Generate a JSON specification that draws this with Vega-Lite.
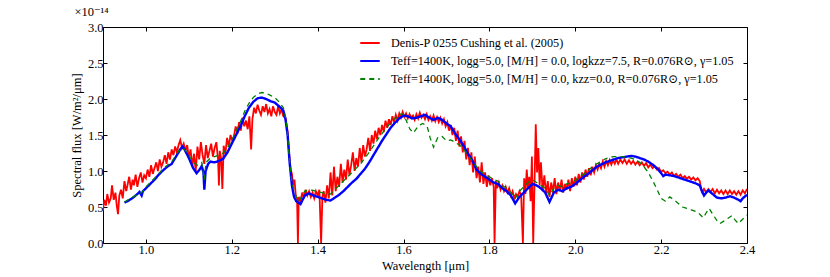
{
 "$schema": "https://vega.github.io/schema/vega-lite/v6.json",
 "width": 644, "height": 216,
 "autosize": {"type": "none"},
 "padding": {"left": 103, "top": 27, "right": 83, "bottom": 34},
 "background": "white",
 "config": {
  "font": "Liberation Serif, DejaVu Serif, serif",
  "view": {"stroke": "black", "strokeWidth": 1},
  "axis": {"domain": false, "grid": false, "tickSize": -4, "tickColor": "black", "labelFont": "Liberation Serif, DejaVu Serif, serif", "labelFontSize": 12.5, "labelColor": "black", "titleFont": "Liberation Serif, DejaVu Serif, serif", "titleFontSize": 12.5, "titleFontWeight": "normal", "titleColor": "black", "labelPadding": 4, "labelFlush": false, "labelOverlap": false},
  "legend": {"orient": "none", "legendX": 256, "legendY": 5, "symbolType": "stroke", "symbolSize": 380, "symbolStrokeWidth": 2, "labelFont": "Liberation Serif, DejaVu Serif, serif", "labelFontSize": 12.2, "labelColor": "black", "labelLimit": 0, "labelOffset": 10, "rowPadding": -5}
 },
 "title": {"text": "×10⁻¹⁴", "anchor": "start", "fontSize": 12.5, "fontWeight": "normal", "font": "Liberation Serif, DejaVu Serif, serif", "offset": 3, "dx": 4, "color": "black"},
 "datasets": {
  "series": [
   {"s": "o", "name": "Denis-P 0255 Cushing et al. (2005)"},
   {"s": "b", "name": "Teff=1400K, logg=5.0, [M/H] = 0.0, logkzz=7.5, R=0.076R⊙, γ=1.05"},
   {"s": "g", "name": "Teff=1400K, logg=5.0, [M/H] = 0.0, kzz=0.0, R=0.076R⊙, γ=1.05"}
  ],
  "spec": [
{"s":"o","w":0.900,"f":0.45},{"s":"o","w":0.903,"f":0.60},{"s":"o","w":0.907,"f":0.52},{"s":"o","w":0.910,"f":0.68},{"s":"o","w":0.914,"f":0.56},{"s":"o","w":0.918,"f":0.62},{"s":"o","w":0.921,"f":0.80},{"s":"o","w":0.925,"f":0.60},{"s":"o","w":0.929,"f":0.70},{"s":"o","w":0.932,"f":0.52},
{"s":"o","w":0.935,"f":0.40},{"s":"o","w":0.938,"f":0.66},{"s":"o","w":0.942,"f":0.74},{"s":"o","w":0.946,"f":0.62},{"s":"o","w":0.950,"f":0.86},{"s":"o","w":0.954,"f":0.72},{"s":"o","w":0.957,"f":0.80},{"s":"o","w":0.961,"f":0.92},{"s":"o","w":0.965,"f":0.74},{"s":"o","w":0.969,"f":0.88},
{"s":"o","w":0.972,"f":0.80},{"s":"o","w":0.976,"f":0.95},{"s":"o","w":0.980,"f":0.78},{"s":"o","w":0.984,"f":0.90},{"s":"o","w":0.988,"f":0.98},{"s":"o","w":0.992,"f":0.84},{"s":"o","w":0.996,"f":0.94},{"s":"o","w":1.000,"f":0.90},{"s":"o","w":1.004,"f":1.02},{"s":"o","w":1.008,"f":0.92},
{"s":"o","w":1.012,"f":1.08},{"s":"o","w":1.016,"f":0.96},{"s":"o","w":1.020,"f":1.04},{"s":"o","w":1.024,"f":1.12},{"s":"o","w":1.028,"f":1.00},{"s":"o","w":1.032,"f":1.16},{"s":"o","w":1.036,"f":1.06},{"s":"o","w":1.040,"f":1.12},{"s":"o","w":1.044,"f":1.22},{"s":"o","w":1.048,"f":1.10},
{"s":"o","w":1.052,"f":1.26},{"s":"o","w":1.056,"f":1.16},{"s":"o","w":1.060,"f":1.30},{"s":"o","w":1.064,"f":1.22},{"s":"o","w":1.068,"f":1.34},{"s":"o","w":1.072,"f":1.26},{"s":"o","w":1.076,"f":1.36},{"s":"o","w":1.080,"f":1.43},{"s":"o","w":1.084,"f":1.32},{"s":"o","w":1.088,"f":1.38},
{"s":"o","w":1.092,"f":1.28},{"s":"o","w":1.096,"f":1.36},{"s":"o","w":1.100,"f":1.18},{"s":"o","w":1.104,"f":1.30},{"s":"o","w":1.108,"f":1.06},{"s":"o","w":1.112,"f":1.24},{"s":"o","w":1.116,"f":1.00},{"s":"o","w":1.120,"f":1.34},{"s":"o","w":1.124,"f":1.16},{"s":"o","w":1.128,"f":1.40},
{"s":"o","w":1.132,"f":1.22},{"s":"o","w":1.136,"f":1.10},{"s":"o","w":1.140,"f":1.36},{"s":"o","w":1.144,"f":1.18},{"s":"o","w":1.148,"f":1.28},{"s":"o","w":1.152,"f":1.38},{"s":"o","w":1.156,"f":1.20},{"s":"o","w":1.160,"f":1.32},{"s":"o","w":1.164,"f":1.40},{"s":"o","w":1.168,"f":1.16},
{"s":"o","w":1.170,"f":0.80},{"s":"o","w":1.172,"f":1.28},{"s":"o","w":1.175,"f":1.18},{"s":"o","w":1.178,"f":0.75},{"s":"o","w":1.181,"f":1.35},{"s":"o","w":1.185,"f":1.24},{"s":"o","w":1.189,"f":1.46},{"s":"o","w":1.193,"f":1.34},{"s":"o","w":1.197,"f":1.50},{"s":"o","w":1.201,"f":1.42},
{"s":"o","w":1.205,"f":1.48},{"s":"o","w":1.209,"f":1.62},{"s":"o","w":1.213,"f":1.52},{"s":"o","w":1.217,"f":1.68},{"s":"o","w":1.221,"f":1.56},{"s":"o","w":1.225,"f":1.74},{"s":"o","w":1.229,"f":1.62},{"s":"o","w":1.233,"f":1.70},{"s":"o","w":1.237,"f":1.58},{"s":"o","w":1.241,"f":1.76},
{"s":"o","w":1.245,"f":1.30},{"s":"o","w":1.248,"f":1.72},{"s":"o","w":1.252,"f":1.88},{"s":"o","w":1.256,"f":1.80},{"s":"o","w":1.260,"f":1.92},{"s":"o","w":1.264,"f":1.84},{"s":"o","w":1.268,"f":1.78},{"s":"o","w":1.272,"f":1.90},{"s":"o","w":1.276,"f":1.82},{"s":"o","w":1.280,"f":1.93},
{"s":"o","w":1.284,"f":1.80},{"s":"o","w":1.288,"f":1.86},{"s":"o","w":1.292,"f":1.76},{"s":"o","w":1.296,"f":1.90},{"s":"o","w":1.300,"f":1.82},{"s":"o","w":1.304,"f":1.78},{"s":"o","w":1.308,"f":1.90},{"s":"o","w":1.312,"f":1.80},{"s":"o","w":1.316,"f":1.86},{"s":"o","w":1.320,"f":1.76},
{"s":"o","w":1.325,"f":1.74},{"s":"o","w":1.330,"f":1.55},{"s":"o","w":1.334,"f":1.20},{"s":"o","w":1.337,"f":1.02},{"s":"o","w":1.340,"f":0.96},{"s":"o","w":1.343,"f":0.80},{"s":"o","w":1.346,"f":0.88},{"s":"o","w":1.349,"f":0.66},{"s":"o","w":1.352,"f":0.62},{"s":"o","w":1.354,"f":0.00},
{"s":"o","w":1.356,"f":0.64},{"s":"o","w":1.360,"f":0.58},{"s":"o","w":1.364,"f":0.70},{"s":"o","w":1.368,"f":0.62},{"s":"o","w":1.372,"f":0.74},{"s":"o","w":1.376,"f":0.66},{"s":"o","w":1.380,"f":0.72},{"s":"o","w":1.384,"f":0.64},{"s":"o","w":1.388,"f":0.70},{"s":"o","w":1.392,"f":0.62},
{"s":"o","w":1.396,"f":0.72},{"s":"o","w":1.400,"f":0.66},{"s":"o","w":1.404,"f":0.74},{"s":"o","w":1.408,"f":0.00},{"s":"o","w":1.411,"f":0.64},{"s":"o","w":1.414,"f":0.72},{"s":"o","w":1.418,"f":0.56},{"s":"o","w":1.422,"f":0.80},{"s":"o","w":1.426,"f":0.62},{"s":"o","w":1.430,"f":0.98},
{"s":"o","w":1.434,"f":0.66},{"s":"o","w":1.438,"f":1.06},{"s":"o","w":1.442,"f":0.72},{"s":"o","w":1.446,"f":0.92},{"s":"o","w":1.450,"f":0.78},{"s":"o","w":1.454,"f":1.10},{"s":"o","w":1.458,"f":0.84},{"s":"o","w":1.462,"f":1.02},{"s":"o","w":1.466,"f":0.88},{"s":"o","w":1.470,"f":1.16},
{"s":"o","w":1.474,"f":0.94},{"s":"o","w":1.478,"f":1.08},{"s":"o","w":1.482,"f":1.26},{"s":"o","w":1.486,"f":1.00},{"s":"o","w":1.490,"f":1.18},{"s":"o","w":1.494,"f":1.06},{"s":"o","w":1.498,"f":1.32},{"s":"o","w":1.502,"f":1.12},{"s":"o","w":1.506,"f":1.36},{"s":"o","w":1.510,"f":1.20},
{"s":"o","w":1.514,"f":1.30},{"s":"o","w":1.518,"f":1.46},{"s":"o","w":1.522,"f":1.28},{"s":"o","w":1.526,"f":1.50},{"s":"o","w":1.530,"f":1.38},{"s":"o","w":1.534,"f":1.56},{"s":"o","w":1.538,"f":1.44},{"s":"o","w":1.542,"f":1.60},{"s":"o","w":1.546,"f":1.50},{"s":"o","w":1.550,"f":1.64},
{"s":"o","w":1.554,"f":1.54},{"s":"o","w":1.558,"f":1.70},{"s":"o","w":1.562,"f":1.60},{"s":"o","w":1.566,"f":1.72},{"s":"o","w":1.570,"f":1.64},{"s":"o","w":1.574,"f":1.76},{"s":"o","w":1.578,"f":1.68},{"s":"o","w":1.582,"f":1.78},{"s":"o","w":1.586,"f":1.70},{"s":"o","w":1.590,"f":1.80},
{"s":"o","w":1.594,"f":1.74},{"s":"o","w":1.598,"f":1.82},{"s":"o","w":1.602,"f":1.75},{"s":"o","w":1.606,"f":1.80},{"s":"o","w":1.610,"f":1.73},{"s":"o","w":1.614,"f":1.79},{"s":"o","w":1.618,"f":1.74},{"s":"o","w":1.622,"f":1.77},{"s":"o","w":1.626,"f":1.71},{"s":"o","w":1.630,"f":1.79},
{"s":"o","w":1.634,"f":1.73},{"s":"o","w":1.638,"f":1.81},{"s":"o","w":1.642,"f":1.74},{"s":"o","w":1.646,"f":1.78},{"s":"o","w":1.650,"f":1.72},{"s":"o","w":1.654,"f":1.79},{"s":"o","w":1.658,"f":1.71},{"s":"o","w":1.662,"f":1.76},{"s":"o","w":1.666,"f":1.70},{"s":"o","w":1.670,"f":1.77},
{"s":"o","w":1.674,"f":1.69},{"s":"o","w":1.678,"f":1.75},{"s":"o","w":1.682,"f":1.68},{"s":"o","w":1.686,"f":1.74},{"s":"o","w":1.690,"f":1.66},{"s":"o","w":1.694,"f":1.72},{"s":"o","w":1.698,"f":1.62},{"s":"o","w":1.702,"f":1.68},{"s":"o","w":1.706,"f":1.56},{"s":"o","w":1.710,"f":1.64},
{"s":"o","w":1.714,"f":1.50},{"s":"o","w":1.718,"f":1.60},{"s":"o","w":1.722,"f":1.42},{"s":"o","w":1.726,"f":1.56},{"s":"o","w":1.730,"f":1.34},{"s":"o","w":1.734,"f":1.48},{"s":"o","w":1.738,"f":1.26},{"s":"o","w":1.742,"f":1.42},{"s":"o","w":1.746,"f":1.16},{"s":"o","w":1.750,"f":1.32},
{"s":"o","w":1.754,"f":1.08},{"s":"o","w":1.758,"f":1.26},{"s":"o","w":1.762,"f":0.98},{"s":"o","w":1.766,"f":1.20},{"s":"o","w":1.770,"f":0.90},{"s":"o","w":1.774,"f":1.06},{"s":"o","w":1.778,"f":0.84},{"s":"o","w":1.782,"f":1.12},{"s":"o","w":1.786,"f":0.82},{"s":"o","w":1.790,"f":0.98},
{"s":"o","w":1.794,"f":0.78},{"s":"o","w":1.798,"f":0.94},{"s":"o","w":1.802,"f":0.80},{"s":"o","w":1.806,"f":0.90},{"s":"o","w":1.810,"f":0.78},{"s":"o","w":1.812,"f":0.00},{"s":"o","w":1.815,"f":0.86},{"s":"o","w":1.818,"f":0.76},{"s":"o","w":1.822,"f":0.84},{"s":"o","w":1.826,"f":0.74},
{"s":"o","w":1.830,"f":0.80},{"s":"o","w":1.834,"f":0.72},{"s":"o","w":1.838,"f":0.78},{"s":"o","w":1.842,"f":0.70},{"s":"o","w":1.846,"f":0.76},{"s":"o","w":1.850,"f":0.66},{"s":"o","w":1.854,"f":0.72},{"s":"o","w":1.858,"f":0.62},{"s":"o","w":1.862,"f":0.68},{"s":"o","w":1.866,"f":0.64},
{"s":"o","w":1.870,"f":0.72},{"s":"o","w":1.874,"f":0.66},{"s":"o","w":1.878,"f":0.00},{"s":"o","w":1.881,"f":0.90},{"s":"o","w":1.884,"f":0.68},{"s":"o","w":1.887,"f":1.02},{"s":"o","w":1.890,"f":0.76},{"s":"o","w":1.893,"f":0.92},{"s":"o","w":1.896,"f":0.58},{"s":"o","w":1.899,"f":1.20},
{"s":"o","w":1.902,"f":0.00},{"s":"o","w":1.905,"f":0.80},{"s":"o","w":1.908,"f":1.65},{"s":"o","w":1.911,"f":0.98},{"s":"o","w":1.914,"f":1.32},{"s":"o","w":1.917,"f":0.80},{"s":"o","w":1.920,"f":1.12},{"s":"o","w":1.924,"f":0.72},{"s":"o","w":1.928,"f":0.94},{"s":"o","w":1.932,"f":0.68},
{"s":"o","w":1.936,"f":0.86},{"s":"o","w":1.940,"f":0.64},{"s":"o","w":1.944,"f":0.84},{"s":"o","w":1.948,"f":0.70},{"s":"o","w":1.952,"f":0.90},{"s":"o","w":1.956,"f":0.68},{"s":"o","w":1.960,"f":0.84},{"s":"o","w":1.964,"f":0.72},{"s":"o","w":1.968,"f":0.88},{"s":"o","w":1.972,"f":0.70},
{"s":"o","w":1.976,"f":0.82},{"s":"o","w":1.980,"f":0.74},{"s":"o","w":1.984,"f":0.88},{"s":"o","w":1.988,"f":0.72},{"s":"o","w":1.992,"f":0.90},{"s":"o","w":1.996,"f":0.78},{"s":"o","w":2.000,"f":0.92},{"s":"o","w":2.004,"f":0.80},{"s":"o","w":2.008,"f":0.96},{"s":"o","w":2.012,"f":0.84},
{"s":"o","w":2.016,"f":0.98},{"s":"o","w":2.020,"f":0.88},{"s":"o","w":2.024,"f":1.02},{"s":"o","w":2.028,"f":0.92},{"s":"o","w":2.032,"f":1.04},{"s":"o","w":2.036,"f":0.94},{"s":"o","w":2.040,"f":1.06},{"s":"o","w":2.044,"f":0.98},{"s":"o","w":2.048,"f":1.08},{"s":"o","w":2.052,"f":1.02},
{"s":"o","w":2.056,"f":1.10},{"s":"o","w":2.060,"f":1.04},{"s":"o","w":2.064,"f":1.13},{"s":"o","w":2.068,"f":1.06},{"s":"o","w":2.072,"f":1.14},{"s":"o","w":2.076,"f":1.08},{"s":"o","w":2.080,"f":1.15},{"s":"o","w":2.084,"f":1.09},{"s":"o","w":2.088,"f":1.15},{"s":"o","w":2.092,"f":1.10},
{"s":"o","w":2.096,"f":1.16},{"s":"o","w":2.100,"f":1.10},{"s":"o","w":2.105,"f":1.16},{"s":"o","w":2.110,"f":1.11},{"s":"o","w":2.115,"f":1.16},{"s":"o","w":2.120,"f":1.10},{"s":"o","w":2.125,"f":1.15},{"s":"o","w":2.130,"f":1.10},{"s":"o","w":2.135,"f":1.14},{"s":"o","w":2.140,"f":1.09},
{"s":"o","w":2.145,"f":1.13},{"s":"o","w":2.150,"f":1.08},{"s":"o","w":2.155,"f":1.12},{"s":"o","w":2.160,"f":1.07},{"s":"o","w":2.165,"f":1.11},{"s":"o","w":2.170,"f":1.05},{"s":"o","w":2.175,"f":1.09},{"s":"o","w":2.180,"f":1.04},{"s":"o","w":2.185,"f":1.07},{"s":"o","w":2.190,"f":1.02},
{"s":"o","w":2.195,"f":1.04},{"s":"o","w":2.200,"f":0.99},{"s":"o","w":2.205,"f":1.01},{"s":"o","w":2.210,"f":0.97},{"s":"o","w":2.215,"f":0.99},{"s":"o","w":2.220,"f":0.95},{"s":"o","w":2.225,"f":0.98},{"s":"o","w":2.230,"f":0.93},{"s":"o","w":2.235,"f":0.96},{"s":"o","w":2.240,"f":0.92},
{"s":"o","w":2.245,"f":0.95},{"s":"o","w":2.250,"f":0.90},{"s":"o","w":2.255,"f":0.93},{"s":"o","w":2.260,"f":0.89},{"s":"o","w":2.265,"f":0.92},{"s":"o","w":2.270,"f":0.88},{"s":"o","w":2.275,"f":0.91},{"s":"o","w":2.280,"f":0.87},{"s":"o","w":2.285,"f":0.90},{"s":"o","w":2.290,"f":0.86},
{"s":"o","w":2.293,"f":0.76},{"s":"o","w":2.296,"f":0.70},{"s":"o","w":2.300,"f":0.75},{"s":"o","w":2.305,"f":0.70},{"s":"o","w":2.310,"f":0.75},{"s":"o","w":2.315,"f":0.71},{"s":"o","w":2.320,"f":0.75},{"s":"o","w":2.325,"f":0.69},{"s":"o","w":2.330,"f":0.74},{"s":"o","w":2.335,"f":0.69},
{"s":"o","w":2.340,"f":0.73},{"s":"o","w":2.345,"f":0.68},{"s":"o","w":2.350,"f":0.73},{"s":"o","w":2.355,"f":0.68},{"s":"o","w":2.360,"f":0.73},{"s":"o","w":2.365,"f":0.68},{"s":"o","w":2.370,"f":0.72},{"s":"o","w":2.375,"f":0.67},{"s":"o","w":2.380,"f":0.72},{"s":"o","w":2.385,"f":0.67},
{"s":"o","w":2.390,"f":0.73},{"s":"o","w":2.395,"f":0.69},{"s":"o","w":2.400,"f":0.75},
{"s":"b","w":0.950,"f":0.56},{"s":"b","w":0.960,"f":0.59},{"s":"b","w":0.970,"f":0.63},{"s":"b","w":0.980,"f":0.68},{"s":"b","w":0.985,"f":0.71},{"s":"b","w":0.990,"f":0.66},{"s":"b","w":0.993,"f":0.72},{"s":"b","w":1.000,"f":0.76},{"s":"b","w":1.010,"f":0.82},{"s":"b","w":1.020,"f":0.88},
{"s":"b","w":1.030,"f":0.95},{"s":"b","w":1.040,"f":1.01},{"s":"b","w":1.050,"f":1.06},{"s":"b","w":1.060,"f":1.10},{"s":"b","w":1.070,"f":1.20},{"s":"b","w":1.080,"f":1.30},{"s":"b","w":1.085,"f":1.34},{"s":"b","w":1.090,"f":1.30},{"s":"b","w":1.100,"f":1.18},{"s":"b","w":1.110,"f":1.04},
{"s":"b","w":1.118,"f":0.97},{"s":"b","w":1.125,"f":1.02},{"s":"b","w":1.130,"f":1.07},{"s":"b","w":1.134,"f":0.98},{"s":"b","w":1.136,"f":0.74},{"s":"b","w":1.139,"f":1.00},{"s":"b","w":1.145,"f":1.10},{"s":"b","w":1.150,"f":1.13},{"s":"b","w":1.160,"f":1.12},{"s":"b","w":1.170,"f":1.14},
{"s":"b","w":1.180,"f":1.17},{"s":"b","w":1.190,"f":1.26},{"s":"b","w":1.200,"f":1.38},{"s":"b","w":1.210,"f":1.50},{"s":"b","w":1.220,"f":1.62},{"s":"b","w":1.230,"f":1.76},{"s":"b","w":1.240,"f":1.88},{"s":"b","w":1.250,"f":1.96},{"s":"b","w":1.260,"f":2.01},{"s":"b","w":1.270,"f":2.02},
{"s":"b","w":1.280,"f":2.00},{"s":"b","w":1.290,"f":1.97},{"s":"b","w":1.300,"f":1.95},{"s":"b","w":1.310,"f":1.90},{"s":"b","w":1.320,"f":1.84},{"s":"b","w":1.325,"f":1.72},{"s":"b","w":1.330,"f":1.50},{"s":"b","w":1.335,"f":1.10},{"s":"b","w":1.340,"f":0.80},{"s":"b","w":1.345,"f":0.64},
{"s":"b","w":1.350,"f":0.58},{"s":"b","w":1.360,"f":0.54},{"s":"b","w":1.365,"f":0.60},{"s":"b","w":1.370,"f":0.66},{"s":"b","w":1.380,"f":0.69},{"s":"b","w":1.390,"f":0.66},{"s":"b","w":1.400,"f":0.64},{"s":"b","w":1.410,"f":0.62},{"s":"b","w":1.420,"f":0.60},{"s":"b","w":1.430,"f":0.59},
{"s":"b","w":1.440,"f":0.63},{"s":"b","w":1.450,"f":0.67},{"s":"b","w":1.460,"f":0.72},{"s":"b","w":1.470,"f":0.78},{"s":"b","w":1.480,"f":0.84},{"s":"b","w":1.490,"f":0.89},{"s":"b","w":1.500,"f":0.96},{"s":"b","w":1.510,"f":1.03},{"s":"b","w":1.520,"f":1.12},{"s":"b","w":1.530,"f":1.22},
{"s":"b","w":1.540,"f":1.32},{"s":"b","w":1.550,"f":1.42},{"s":"b","w":1.560,"f":1.51},{"s":"b","w":1.570,"f":1.60},{"s":"b","w":1.580,"f":1.67},{"s":"b","w":1.590,"f":1.73},{"s":"b","w":1.600,"f":1.77},{"s":"b","w":1.610,"f":1.76},{"s":"b","w":1.620,"f":1.73},{"s":"b","w":1.630,"f":1.74},
{"s":"b","w":1.640,"f":1.76},{"s":"b","w":1.650,"f":1.78},{"s":"b","w":1.660,"f":1.74},{"s":"b","w":1.670,"f":1.71},{"s":"b","w":1.680,"f":1.74},{"s":"b","w":1.690,"f":1.71},{"s":"b","w":1.700,"f":1.66},{"s":"b","w":1.710,"f":1.62},{"s":"b","w":1.720,"f":1.52},{"s":"b","w":1.730,"f":1.44},
{"s":"b","w":1.740,"f":1.35},{"s":"b","w":1.750,"f":1.24},{"s":"b","w":1.760,"f":1.15},{"s":"b","w":1.770,"f":1.02},{"s":"b","w":1.780,"f":0.96},{"s":"b","w":1.790,"f":0.92},{"s":"b","w":1.800,"f":0.88},{"s":"b","w":1.810,"f":0.84},{"s":"b","w":1.820,"f":0.82},{"s":"b","w":1.830,"f":0.76},
{"s":"b","w":1.840,"f":0.72},{"s":"b","w":1.850,"f":0.66},{"s":"b","w":1.860,"f":0.55},{"s":"b","w":1.870,"f":0.64},{"s":"b","w":1.880,"f":0.70},{"s":"b","w":1.890,"f":0.76},{"s":"b","w":1.900,"f":0.82},{"s":"b","w":1.910,"f":0.80},{"s":"b","w":1.920,"f":0.76},{"s":"b","w":1.930,"f":0.70},
{"s":"b","w":1.940,"f":0.57},{"s":"b","w":1.950,"f":0.70},{"s":"b","w":1.960,"f":0.74},{"s":"b","w":1.970,"f":0.72},{"s":"b","w":1.980,"f":0.76},{"s":"b","w":1.990,"f":0.78},{"s":"b","w":2.000,"f":0.82},{"s":"b","w":2.010,"f":0.87},{"s":"b","w":2.020,"f":0.92},{"s":"b","w":2.030,"f":0.96},
{"s":"b","w":2.040,"f":1.01},{"s":"b","w":2.050,"f":1.06},{"s":"b","w":2.060,"f":1.09},{"s":"b","w":2.070,"f":1.12},{"s":"b","w":2.080,"f":1.14},{"s":"b","w":2.090,"f":1.16},{"s":"b","w":2.100,"f":1.18},{"s":"b","w":2.110,"f":1.19},{"s":"b","w":2.120,"f":1.20},{"s":"b","w":2.130,"f":1.21},
{"s":"b","w":2.140,"f":1.20},{"s":"b","w":2.150,"f":1.18},{"s":"b","w":2.160,"f":1.16},{"s":"b","w":2.170,"f":1.13},{"s":"b","w":2.180,"f":1.09},{"s":"b","w":2.190,"f":1.04},{"s":"b","w":2.200,"f":0.97},{"s":"b","w":2.205,"f":0.93},{"s":"b","w":2.210,"f":0.95},{"s":"b","w":2.220,"f":0.94},
{"s":"b","w":2.230,"f":0.93},{"s":"b","w":2.240,"f":0.91},{"s":"b","w":2.250,"f":0.89},{"s":"b","w":2.260,"f":0.87},{"s":"b","w":2.270,"f":0.85},{"s":"b","w":2.280,"f":0.83},{"s":"b","w":2.290,"f":0.80},{"s":"b","w":2.295,"f":0.72},{"s":"b","w":2.300,"f":0.66},{"s":"b","w":2.305,"f":0.70},
{"s":"b","w":2.310,"f":0.73},{"s":"b","w":2.320,"f":0.68},{"s":"b","w":2.330,"f":0.63},{"s":"b","w":2.340,"f":0.62},{"s":"b","w":2.350,"f":0.63},{"s":"b","w":2.360,"f":0.65},{"s":"b","w":2.370,"f":0.63},{"s":"b","w":2.380,"f":0.60},{"s":"b","w":2.385,"f":0.58},{"s":"b","w":2.390,"f":0.62},
{"s":"b","w":2.400,"f":0.67},
{"s":"g","w":0.950,"f":0.57},{"s":"g","w":0.970,"f":0.64},{"s":"g","w":0.990,"f":0.70},{"s":"g","w":1.000,"f":0.78},{"s":"g","w":1.020,"f":0.90},{"s":"g","w":1.040,"f":1.03},{"s":"g","w":1.060,"f":1.13},{"s":"g","w":1.080,"f":1.31},{"s":"g","w":1.090,"f":1.30},{"s":"g","w":1.100,"f":1.22},
{"s":"g","w":1.110,"f":1.12},{"s":"g","w":1.120,"f":1.08},{"s":"g","w":1.130,"f":1.12},{"s":"g","w":1.136,"f":0.88},{"s":"g","w":1.140,"f":1.12},{"s":"g","w":1.150,"f":1.18},{"s":"g","w":1.160,"f":1.20},{"s":"g","w":1.170,"f":1.22},{"s":"g","w":1.180,"f":1.25},{"s":"g","w":1.190,"f":1.32},
{"s":"g","w":1.200,"f":1.43},{"s":"g","w":1.210,"f":1.55},{"s":"g","w":1.220,"f":1.68},{"s":"g","w":1.230,"f":1.83},{"s":"g","w":1.240,"f":1.94},{"s":"g","w":1.250,"f":2.02},{"s":"g","w":1.260,"f":2.07},{"s":"g","w":1.270,"f":2.09},{"s":"g","w":1.280,"f":2.08},{"s":"g","w":1.290,"f":2.05},
{"s":"g","w":1.300,"f":2.02},{"s":"g","w":1.310,"f":1.96},{"s":"g","w":1.320,"f":1.88},{"s":"g","w":1.325,"f":1.75},{"s":"g","w":1.330,"f":1.50},{"s":"g","w":1.335,"f":1.10},{"s":"g","w":1.340,"f":0.84},{"s":"g","w":1.350,"f":0.64},{"s":"g","w":1.355,"f":0.58},{"s":"g","w":1.360,"f":0.62},
{"s":"g","w":1.370,"f":0.72},{"s":"g","w":1.380,"f":0.74},{"s":"g","w":1.390,"f":0.73},{"s":"g","w":1.400,"f":0.71},{"s":"g","w":1.410,"f":0.70},{"s":"g","w":1.420,"f":0.68},{"s":"g","w":1.430,"f":0.68},{"s":"g","w":1.440,"f":0.74},{"s":"g","w":1.450,"f":0.80},{"s":"g","w":1.460,"f":0.86},
{"s":"g","w":1.470,"f":0.92},{"s":"g","w":1.480,"f":0.98},{"s":"g","w":1.490,"f":1.04},{"s":"g","w":1.500,"f":1.10},{"s":"g","w":1.510,"f":1.18},{"s":"g","w":1.520,"f":1.26},{"s":"g","w":1.530,"f":1.35},{"s":"g","w":1.540,"f":1.44},{"s":"g","w":1.550,"f":1.52},{"s":"g","w":1.560,"f":1.60},
{"s":"g","w":1.570,"f":1.67},{"s":"g","w":1.580,"f":1.73},{"s":"g","w":1.590,"f":1.79},{"s":"g","w":1.600,"f":1.79},{"s":"g","w":1.607,"f":1.69},{"s":"g","w":1.615,"f":1.58},{"s":"g","w":1.623,"f":1.53},{"s":"g","w":1.635,"f":1.63},{"s":"g","w":1.645,"f":1.66},{"s":"g","w":1.655,"f":1.62},
{"s":"g","w":1.662,"f":1.46},{"s":"g","w":1.670,"f":1.33},{"s":"g","w":1.680,"f":1.47},{"s":"g","w":1.690,"f":1.48},{"s":"g","w":1.700,"f":1.42},{"s":"g","w":1.710,"f":1.43},{"s":"g","w":1.720,"f":1.40},{"s":"g","w":1.730,"f":1.36},{"s":"g","w":1.740,"f":1.30},{"s":"g","w":1.750,"f":1.22},
{"s":"g","w":1.760,"f":1.14},{"s":"g","w":1.770,"f":1.06},{"s":"g","w":1.780,"f":1.00},{"s":"g","w":1.790,"f":0.95},{"s":"g","w":1.800,"f":0.92},{"s":"g","w":1.810,"f":0.88},{"s":"g","w":1.820,"f":0.86},{"s":"g","w":1.830,"f":0.80},{"s":"g","w":1.840,"f":0.76},{"s":"g","w":1.850,"f":0.70},
{"s":"g","w":1.860,"f":0.62},{"s":"g","w":1.870,"f":0.72},{"s":"g","w":1.880,"f":0.78},{"s":"g","w":1.890,"f":0.84},{"s":"g","w":1.900,"f":0.88},{"s":"g","w":1.910,"f":0.84},{"s":"g","w":1.920,"f":0.80},{"s":"g","w":1.930,"f":0.76},{"s":"g","w":1.940,"f":0.66},{"s":"g","w":1.950,"f":0.76},
{"s":"g","w":1.960,"f":0.80},{"s":"g","w":1.970,"f":0.78},{"s":"g","w":1.980,"f":0.82},{"s":"g","w":1.990,"f":0.84},{"s":"g","w":2.000,"f":0.87},{"s":"g","w":2.010,"f":0.92},{"s":"g","w":2.020,"f":0.96},{"s":"g","w":2.030,"f":1.01},{"s":"g","w":2.040,"f":1.06},{"s":"g","w":2.050,"f":1.10},
{"s":"g","w":2.060,"f":1.13},{"s":"g","w":2.070,"f":1.17},{"s":"g","w":2.080,"f":1.19},{"s":"g","w":2.090,"f":1.20},{"s":"g","w":2.100,"f":1.20},{"s":"g","w":2.110,"f":1.20},{"s":"g","w":2.120,"f":1.19},{"s":"g","w":2.130,"f":1.18},{"s":"g","w":2.140,"f":1.16},{"s":"g","w":2.150,"f":1.12},
{"s":"g","w":2.160,"f":1.06},{"s":"g","w":2.170,"f":0.98},{"s":"g","w":2.180,"f":0.87},{"s":"g","w":2.190,"f":0.75},{"s":"g","w":2.200,"f":0.62},{"s":"g","w":2.210,"f":0.58},{"s":"g","w":2.220,"f":0.64},{"s":"g","w":2.230,"f":0.60},{"s":"g","w":2.240,"f":0.55},{"s":"g","w":2.250,"f":0.50},
{"s":"g","w":2.260,"f":0.48},{"s":"g","w":2.270,"f":0.46},{"s":"g","w":2.280,"f":0.44},{"s":"g","w":2.290,"f":0.40},{"s":"g","w":2.298,"f":0.35},{"s":"g","w":2.305,"f":0.42},{"s":"g","w":2.312,"f":0.48},{"s":"g","w":2.320,"f":0.40},{"s":"g","w":2.330,"f":0.31},{"s":"g","w":2.337,"f":0.27},
{"s":"g","w":2.345,"f":0.30},{"s":"g","w":2.355,"f":0.34},{"s":"g","w":2.365,"f":0.38},{"s":"g","w":2.372,"f":0.32},{"s":"g","w":2.380,"f":0.27},{"s":"g","w":2.388,"f":0.32},{"s":"g","w":2.395,"f":0.36},{"s":"g","w":2.400,"f":0.39}
  ]
 },
 "data": {"name": "spec"},
 "transform": [{"lookup": "s", "from": {"data": {"name": "series"}, "key": "s", "fields": ["name"]}}],
 "resolve": {"axis": {"x": "independent", "y": "independent"}},
 "layer": [
  {
   "transform": [{"filter": "datum.s == 'o'"}],
   "mark": {"type": "line", "strokeWidth": 1.8, "clip": true},
   "encoding": {
    "x": {"field": "w", "type": "quantitative", "scale": {"domain": [0.9, 2.4], "nice": false, "zero": false}, "axis": {"orient": "bottom", "values": [1.0, 1.2, 1.4, 1.6, 1.8, 2.0, 2.2, 2.4], "format": ".1f", "title": "Wavelength [μm]"}},
    "y": {"field": "f", "type": "quantitative", "scale": {"domain": [0, 3], "nice": false}, "axis": {"orient": "left", "values": [0, 0.5, 1.0, 1.5, 2.0, 2.5, 3.0], "format": ".1f", "title": "Spectral flux [W/m²/μm]"}},
    "color": {"field": "name", "type": "nominal", "scale": {"domain": ["Denis-P 0255 Cushing et al. (2005)", "Teff=1400K, logg=5.0, [M/H] = 0.0, logkzz=7.5, R=0.076R⊙, γ=1.05", "Teff=1400K, logg=5.0, [M/H] = 0.0, kzz=0.0, R=0.076R⊙, γ=1.05"], "range": ["#ff0000", "#0000ff", "#008000"]}, "legend": {"title": null}},
    "strokeDash": {"field": "name", "type": "nominal", "scale": {"domain": ["Denis-P 0255 Cushing et al. (2005)", "Teff=1400K, logg=5.0, [M/H] = 0.0, logkzz=7.5, R=0.076R⊙, γ=1.05", "Teff=1400K, logg=5.0, [M/H] = 0.0, kzz=0.0, R=0.076R⊙, γ=1.05"], "range": [[1, 0], [1, 0], [5, 4]]}, "legend": {"title": null}}
   }
  },
  {
   "transform": [{"filter": "datum.s == 'b'"}],
   "mark": {"type": "line", "strokeWidth": 2.4, "clip": true},
   "encoding": {
    "x": {"field": "w", "type": "quantitative", "axis": {"orient": "top", "values": [1.0, 1.2, 1.4, 1.6, 1.8, 2.0, 2.2, 2.4], "labels": false, "title": null}},
    "y": {"field": "f", "type": "quantitative", "axis": {"orient": "right", "values": [0, 0.5, 1.0, 1.5, 2.0, 2.5, 3.0], "labels": false, "title": null}},
    "color": {"field": "name", "type": "nominal"},
    "strokeDash": {"field": "name", "type": "nominal"}
   }
  },
  {
   "transform": [{"filter": "datum.s == 'g'"}],
   "mark": {"type": "line", "strokeWidth": 1.3, "clip": true},
   "encoding": {
    "x": {"field": "w", "type": "quantitative", "axis": null},
    "y": {"field": "f", "type": "quantitative", "axis": null},
    "color": {"field": "name", "type": "nominal"},
    "strokeDash": {"field": "name", "type": "nominal"}
   }
  }
 ]
}
